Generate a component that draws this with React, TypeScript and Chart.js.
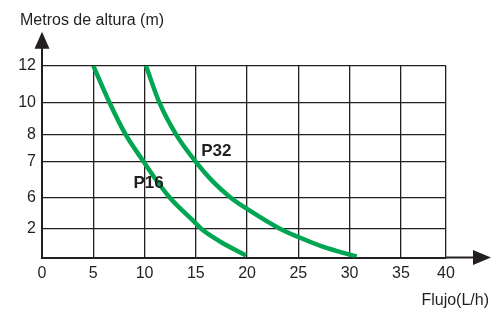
import { useEffect, useRef } from 'react';
import { Chart, registerables } from 'chart.js';

Chart.register(...registerables);

// Axis ticks (hand-drawn grid: values are grid positions, labels are what is printed)
const xTickValues = [0, 5, 10, 15, 20, 25, 30, 35, 39.4];
const xTickLabels = ['0', '5', '10', '15', '20', '25', '30', '35', '40'];
const yTickValues = [0, 0.89, 1.88, 2.99, 3.85, 4.84, 6];
const yTickLabels = ['', '2', '6', '7', '8', '10', '12'];

// Pump curves (x: flujo in grid units, y: altura in grid units)
const p16X = [5, 6.58, 8.15, 9.93, 11.17, 12.45, 15, 15.56, 17.36, 19.9];
const p16Y = [6, 4.85, 3.85, 2.99, 2.41, 1.88, 1.07, 0.89, 0.5, 0.06];
const p32X = [10.14, 11.44, 13.07, 15, 16.65, 18.38, 20, 23.21, 25, 27.45, 30, 30.69];
const p32Y = [6, 4.85, 3.85, 2.99, 2.38, 1.88, 1.52, 0.9, 0.64, 0.33, 0.09, 0.03];

const seriesLabels = ['P16', 'P32'];
const labelAnchorsX = [10.4, 17.0];
const labelAnchorsY = [2.33, 3.33];

const yTitle = 'Metros de altura (m)';
const xTitle = 'Flujo(L/h)';

const INK = '#231f20';
const GREEN = '#00a651';
const FONT = '"Liberation Sans", Arial, Helvetica, sans-serif';

const decorPlugin = {
  id: 'decor',
  afterDatasetsDraw(chart: any) {
    const { ctx, scales } = chart;
    ctx.save();
    ctx.fillStyle = INK;
    ctx.font = `bold 17px ${FONT}`;
    ctx.textAlign = 'center';
    ctx.textBaseline = 'middle';
    seriesLabels.forEach((t, i) => {
      ctx.fillText(t, scales.x.getPixelForValue(labelAnchorsX[i]), scales.y.getPixelForValue(labelAnchorsY[i]));
    });
    ctx.restore();
  },
  afterDraw(chart: any) {
    const { ctx, chartArea } = chart;
    const { left, top, right, bottom } = chartArea;
    ctx.save();
    ctx.strokeStyle = INK;
    ctx.fillStyle = INK;
    ctx.lineWidth = 2;
    // y axis extension + arrow
    ctx.beginPath();
    ctx.moveTo(left, top);
    ctx.lineTo(left, top - 19);
    ctx.stroke();
    ctx.beginPath();
    ctx.moveTo(left, top - 34);
    ctx.lineTo(left - 7.5, top - 17);
    ctx.lineTo(left + 7.5, top - 17);
    ctx.closePath();
    ctx.fill();
    // x axis extension + arrow
    ctx.beginPath();
    ctx.moveTo(right, bottom);
    ctx.lineTo(right + 28, bottom);
    ctx.stroke();
    ctx.beginPath();
    ctx.moveTo(right + 45, bottom);
    ctx.lineTo(right + 27, bottom - 7.5);
    ctx.lineTo(right + 27, bottom + 7.5);
    ctx.closePath();
    ctx.fill();
    // axis titles
    ctx.font = `16px ${FONT}`;
    ctx.textBaseline = 'alphabetic';
    ctx.textAlign = 'left';
    ctx.fillText(yTitle, 20, 25);
    ctx.textAlign = 'right';
    ctx.fillText(xTitle, 489, 304.5);
    ctx.restore();
  },
};

export default function App() {
  const ref = useRef<HTMLCanvasElement | null>(null);

  useEffect(() => {
    if (!ref.current) return;
    const chart = new Chart(ref.current, {
      type: 'line',
      data: {
        datasets: [
          {
            label: seriesLabels[0],
            data: p16X.map((x, i) => ({ x, y: p16Y[i] })),
            borderColor: GREEN,
            borderWidth: 4.5,
            pointRadius: 0,
            cubicInterpolationMode: 'monotone',
            fill: false,
            clip: 0,
          },
          {
            label: seriesLabels[1],
            data: p32X.map((x, i) => ({ x, y: p32Y[i] })),
            borderColor: GREEN,
            borderWidth: 4.5,
            pointRadius: 0,
            cubicInterpolationMode: 'monotone',
            fill: false,
            clip: 0,
          },
        ],
      },
      options: {
        responsive: false,
        animation: false,
        layout: { padding: { top: 65.7, left: 0, right: 57, bottom: 0 } },
        plugins: { legend: { display: false }, tooltip: { enabled: false } },
        scales: {
          x: {
            type: 'linear',
            min: 0,
            max: xTickValues[xTickValues.length - 1],
            afterBuildTicks: (s: any) => {
              s.ticks = xTickValues.map((v) => ({ value: v }));
            },
            afterFit: (s: any) => {
              s.height = 52.5;
            },
            ticks: {
              callback: (_v: any, i: number) => xTickLabels[i],
              color: INK,
              font: { family: FONT, size: 16 },
              padding: 6,
              maxRotation: 0,
              autoSkip: false,
            },
            grid: { color: INK, lineWidth: 1.3, drawTicks: false },
            border: { color: INK, width: 2 },
          },
          y: {
            type: 'linear',
            min: 0,
            max: 6,
            afterBuildTicks: (s: any) => {
              s.ticks = yTickValues.map((v) => ({ value: v }));
            },
            afterFit: (s: any) => {
              s.width = 42;
            },
            ticks: {
              callback: (_v: any, i: number) => yTickLabels[i],
              color: INK,
              font: { family: FONT, size: 16 },
              padding: 6,
              autoSkip: false,
            },
            grid: { color: INK, lineWidth: 1.3, drawTicks: false },
            border: { color: INK, width: 2 },
          },
        },
      },
      plugins: [decorPlugin],
    });
    return () => chart.destroy();
  }, []);

  return (
    <div style={{ position: 'fixed', left: 0, top: 0, width: 503, height: 310, background: '#fff' }}>
      <canvas ref={ref} width={503} height={310} style={{ display: 'block' }} />
    </div>
  );
}
